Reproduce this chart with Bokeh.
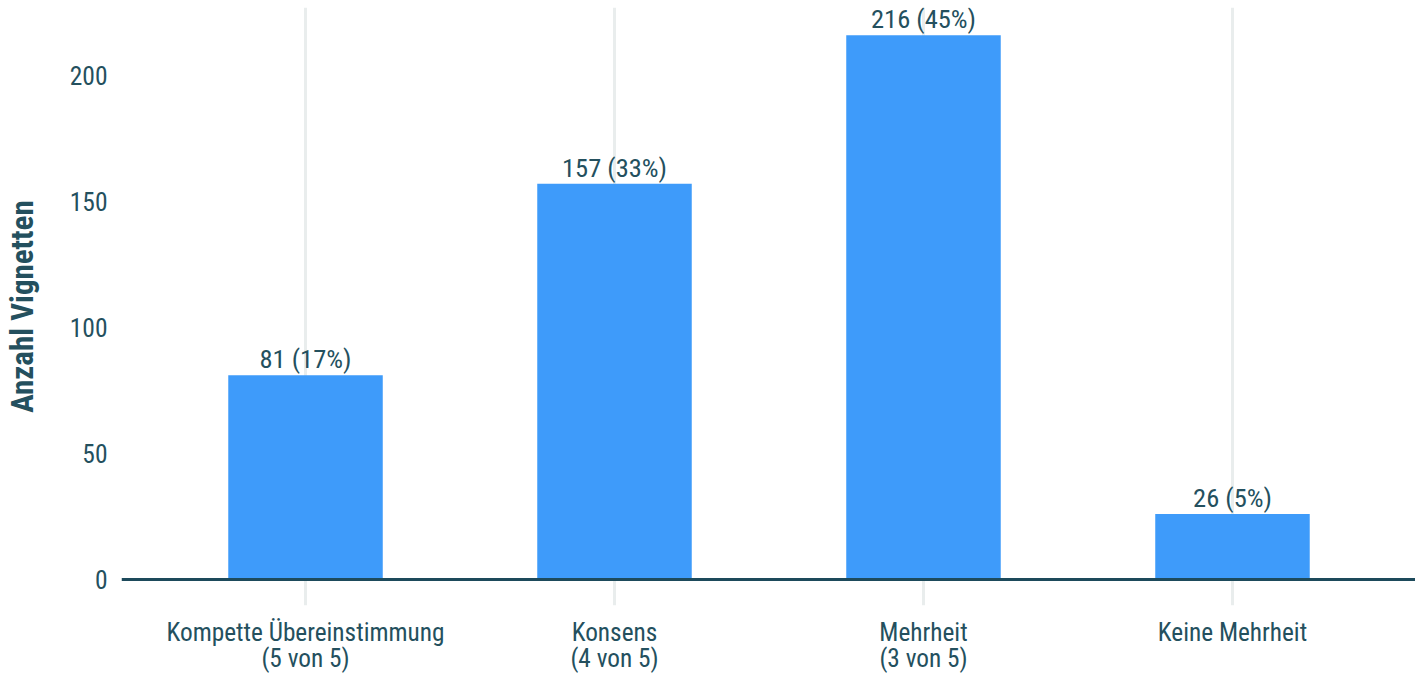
from bokeh.plotting import figure
from bokeh.models import ColumnDataSource, FactorRange, Range1d, Span, FixedTicker
from bokeh.embed import file_html
from bokeh.resources import INLINE
from bokeh.core.properties import value

categories = ["Kompette Übereinstimmung\n(5 von 5)", "Konsens\n(4 von 5)",
              "Mehrheit\n(3 von 5)", "Keine Mehrheit"]
counts = [81, 157, 216, 26]
percents = [17, 33, 45, 5]
y_ticks = [0, 50, 100, 150, 200]

labels = [f"{c} ({p}%)" for c, p in zip(counts, percents)]
src = ColumnDataSource(dict(cat=categories, n=counts, lab=labels))

FONT = "'Roboto Condensed', 'Liberation Sans Narrow', 'DejaVu Sans Condensed', Roboto"
TEXT = "#24505e"
BAR = "#3e9bfa"

p = figure(frame_width=1295, frame_height=598, output_backend="svg", toolbar_location=None,
           x_range=FactorRange(factors=categories, range_padding=0.0955,
                               range_padding_units="absolute"),
           y_range=Range1d(-10.32, 226.98),
           min_border_left=120, min_border_right=0, min_border_top=7,
           min_border_bottom=0)
p.outline_line_color = None
p.background_fill_color = "white"
p.border_fill_color = "white"

p.vbar(x="cat", top="n", width=0.5, source=src, fill_color=BAR, line_color=None)
p.text(x="cat", y="n", text="lab", source=src, text_align="center",
       text_baseline="bottom", y_offset=-1, text_color=TEXT,
       text_font=value(FONT), text_font_size="26.5px")

p.add_layout(Span(location=0, dimension="width", line_color="#1d4a5b", line_width=3))

p.ygrid.grid_line_color = None
p.xgrid.grid_line_color = "#e9eded"
p.xgrid.grid_line_width = 3

p.xaxis.axis_line_color = None
p.xaxis.major_tick_line_color = None
p.xaxis.minor_tick_line_color = None
p.xaxis.major_label_standoff = 6
p.xaxis.major_label_text_font = FONT
p.xaxis.major_label_text_font_size = "25.3px"
p.xaxis.major_label_text_line_height = 0.9
p.xaxis.major_label_text_color = TEXT

p.yaxis.ticker = FixedTicker(ticks=y_ticks)
p.yaxis.axis_line_color = None
p.yaxis.major_tick_line_color = None
p.yaxis.minor_tick_line_color = None
p.yaxis.major_label_standoff = 8
p.yaxis.major_label_text_font = FONT
p.yaxis.major_label_text_font_size = "25.5px"
p.yaxis.major_label_text_color = TEXT
p.yaxis.axis_label = "Anzahl Vignetten"
p.yaxis.axis_label_text_font = FONT
p.yaxis.axis_label_text_font_style = "bold"
p.yaxis.axis_label_text_font_size = "31px"
p.yaxis.axis_label_text_color = TEXT
p.yaxis.axis_label_standoff = 26

open("out.html", "w").write(file_html(p, INLINE))
